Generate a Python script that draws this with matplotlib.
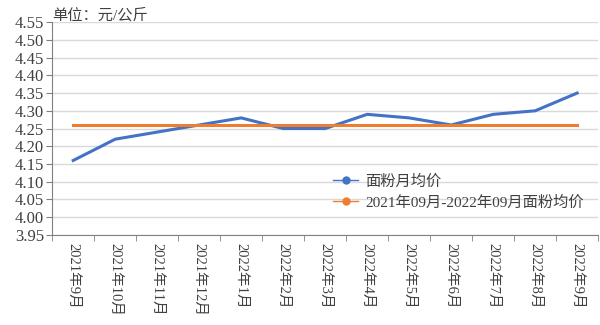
import matplotlib.pyplot as plt
import numpy as np

plt.rcParams['font.family'] = ['Liberation Serif', 'Noto Sans CJK SC']

# === DATA ===
months = ["2021年9月", "2021年10月", "2021年11月", "2021年12月", "2022年1月",
          "2022年2月", "2022年3月", "2022年4月", "2022年5月", "2022年6月",
          "2022年7月", "2022年8月", "2022年9月"]
monthly_price = [4.16, 4.22, 4.24, 4.26, 4.28, 4.25, 4.25, 4.29, 4.28, 4.26, 4.29, 4.30, 4.35]
avg_price = [4.26] * len(months)
yticks = [3.95, 4.00, 4.05, 4.10, 4.15, 4.20, 4.25, 4.30, 4.35, 4.40, 4.45, 4.50, 4.55]

# === PLOT ===
fig = plt.figure(figsize=(6, 3.25), dpi=100)
ax = fig.add_axes([0.087, 0.277, 0.91, 0.655])

x = np.arange(len(months))
ax.plot(x, monthly_price, color="#4472C4", lw=2.2, label="面粉月均价")
ax.plot(x, avg_price, color="#ED7D31", lw=2.2, label="2021年09月-2022年09月面粉均价")

ax.set_xlim(-0.5, len(months) - 0.5)
ax.set_ylim(3.95, 4.55)
ax.set_yticks(yticks)
ax.set_yticklabels([f"{v:.2f}" for v in yticks], fontsize=12, color="#404040")
ax.set_xticks(x)
ax.set_xticklabels(months, rotation=-90, fontsize=10.5, color="#404040", va="top")
ax.set_xticks(np.arange(-0.5, len(months)), minor=True)
ax.tick_params(axis="x", which="major", length=0, pad=6)
ax.tick_params(axis="x", which="minor", length=4, color="#808080")
ax.tick_params(axis="y", length=4, color="#808080", pad=2)

ax.grid(axis="y", color="#D9D9D9", lw=1)
ax.set_axisbelow(True)
for s in ["top", "right"]:
    ax.spines[s].set_visible(False)
ax.spines["left"].set_color("#808080")
ax.spines["bottom"].set_color("#808080")

ax.text(0.0, 1.0, "单位：元/公斤", transform=ax.transAxes, fontsize=11,
        color="#404040", ha="left", va="bottom")

# legend handles with circle markers
h1, = ax.plot([], [], color="#4472C4", lw=1, marker="o", ms=5)
h2, = ax.plot([], [], color="#ED7D31", lw=1, marker="o", ms=5)
ax.legend([h1, h2], ["面粉月均价", "2021年09月-2022年09月面粉均价"],
          loc="upper left", bbox_to_anchor=(0.49, 0.35), frameon=False,
          fontsize=11, handlelength=1.6, labelspacing=0.45, labelcolor="#404040",
          handletextpad=0.5)

fig.savefig("out.png", dpi=100)
